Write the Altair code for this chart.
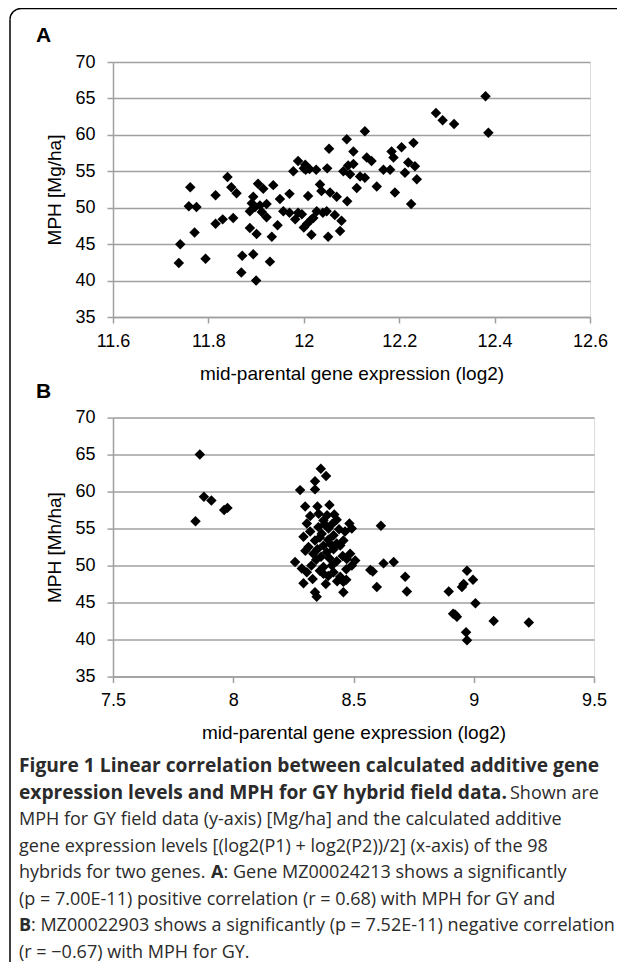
import altair as alt
import pandas as pd

# ---------------- data ----------------
a_x = [11.738, 11.741, 11.762, 11.759, 11.775, 11.771, 11.794, 11.815, 11.815, 11.830,
       11.840, 11.848, 11.859, 11.852, 11.871, 11.869, 11.894, 11.900, 11.887, 11.894,
       11.891, 11.898, 11.887, 11.908, 11.922, 11.912, 11.922, 11.904, 11.915, 11.901,
       11.936, 11.933, 11.929, 11.945, 11.950, 11.970, 11.957, 11.970, 11.988, 11.982,
       12.000, 11.978, 11.988, 12.003, 12.000, 12.012, 12.026, 12.009, 12.016, 12.016,
       12.027, 12.034, 12.037, 12.049, 12.053, 12.055, 12.048, 12.051, 12.065, 12.069,
       12.079, 12.076, 12.083, 12.090, 12.091, 12.093, 12.104, 12.097, 12.104, 12.111,
       12.118, 12.128, 12.128, 12.132, 12.142, 12.153, 12.167, 12.181, 12.184, 12.188,
       12.191, 12.205, 12.212, 12.219, 12.225, 12.230, 12.233, 12.237, 12.277, 12.291,
       12.315, 12.381, 12.387, 12.020, 12.040, 12.007, 11.996, 12.004]
a_y = [42.4, 45.0, 52.8, 50.2, 50.1, 46.6, 43.0, 51.7, 47.8, 48.4,
       54.2, 52.8, 52.0, 48.6, 43.4, 41.1, 43.6, 40.0, 47.2, 51.5,
       50.6, 50.1, 49.5, 50.3, 50.5, 49.4, 48.7, 53.3, 52.6, 46.4,
       53.1, 46.0, 42.6, 47.6, 51.2, 51.9, 49.5, 49.3, 49.3, 48.4,
       47.3, 55.0, 56.4, 55.9, 55.4, 55.3, 55.2, 51.6, 48.4, 46.3,
       49.5, 53.2, 52.3, 55.4, 58.1, 52.1, 49.5, 46.0, 49.0, 51.5,
       48.2, 46.8, 55.0, 59.4, 50.9, 55.8, 56.0, 54.6, 57.7, 52.7,
       54.3, 54.1, 60.5, 56.9, 56.4, 52.9, 55.2, 55.2, 57.7, 56.9,
       52.1, 58.3, 54.8, 56.2, 50.5, 58.9, 55.7, 53.9, 63.0, 62.0,
       61.5, 65.3, 60.3, 48.6, 49.3, 47.8, 49.1, 55.2]

b_x = [7.861, 7.878, 7.909, 7.843, 7.962, 7.976, 8.278, 8.364, 8.386, 8.340,
       8.340, 8.299, 8.400, 8.320, 8.375, 8.430, 8.483, 8.493, 8.614, 8.306,
       8.354, 8.396, 8.368, 8.417, 8.292, 8.340, 8.458, 8.313, 8.375, 8.445,
       8.333, 8.389, 8.417, 8.486, 8.507, 8.493, 8.472, 8.257, 8.285, 8.306,
       8.375, 8.410, 8.375, 8.417, 8.445, 8.458, 8.570, 8.625, 8.667, 8.597,
       8.715, 8.292, 8.340, 8.347, 8.458, 8.722, 8.580, 8.972, 8.997, 8.958,
       8.951, 8.896, 9.007, 8.914, 8.930, 8.922, 9.083, 9.229, 8.968, 8.972,
       8.355, 8.390, 8.410, 8.360, 8.395, 8.430, 8.350, 8.400, 8.430, 8.345,
       8.360, 8.395, 8.432, 8.320, 8.440, 8.465, 8.330, 8.470, 8.380, 8.325,
       8.455, 8.365, 8.300, 8.405, 8.470, 8.350, 8.420, 8.385]
b_y = [65.0, 59.3, 58.8, 56.0, 57.5, 57.8, 60.2, 63.1, 62.1, 61.4,
       60.3, 58.0, 58.2, 56.7, 56.1, 56.2, 55.7, 55.0, 55.4, 55.7,
       55.2, 55.0, 54.3, 54.1, 53.9, 53.4, 53.4, 52.5, 52.7, 52.7,
       51.6, 51.8, 52.2, 51.6, 50.7, 50.0, 50.9, 50.5, 49.6, 49.1,
       49.8, 50.0, 48.9, 49.1, 48.5, 47.8, 49.4, 50.3, 50.5, 47.1,
       48.5, 47.6, 46.4, 45.8, 46.4, 46.5, 49.2, 49.3, 48.1, 47.5,
       47.1, 46.5, 44.9, 43.5, 43.1, 43.4, 42.5, 42.3, 41.0, 39.9,
       57.0, 56.8, 55.6, 53.8, 53.5, 53.0, 52.2, 51.0, 50.6, 50.8,
       49.3, 48.6, 47.9, 54.6, 54.9, 54.6, 48.2, 49.5, 55.6, 50.0,
       51.3, 51.2, 52.0, 52.9, 48.1, 58.0, 56.9, 47.5]

a_xticks = [11.6, 11.8, 12.0, 12.2, 12.4, 12.6]
b_xticks = [7.5, 8.0, 8.5, 9.0, 9.5]
y_ticks = [35, 40, 45, 50, 55, 60, 65, 70]

x_title = "mid-parental gene expression (log2)"
a_y_title = "MPH [Mg/ha]"
b_y_title = "MPH [Mh/ha]"

cap_l1 = "Figure 1 Linear correlation between calculated additive gene"
cap_l2_bold = "expression levels and MPH for GY hybrid field data."
cap_l2_reg = "Shown are"
cap_l3 = "MPH for GY field data (y-axis) [Mg/ha] and the calculated additive"
cap_l4 = "gene expression levels [(log2(P1) + log2(P2))/2] (x-axis) of the 98"
cap_l5a = "hybrids for two genes."
cap_l5b = "A"
cap_l5c = ": Gene MZ00024213 shows a significantly"
cap_l6 = "(p = 7.00E-11) positive correlation (r = 0.68) with MPH for GY and"
cap_l7a = "B"
cap_l7b = ": MZ00022903 shows a significantly (p = 7.52E-11) negative correlation"
cap_l8 = "(r = \u22120.67) with MPH for GY."

# ---------------- styling ----------------
AX_FONT = "Liberation Sans"
CAP_FONT = "Open Sans"
GRID = "#a0a0a0"
CAP_SIZE = 18
CAP_BOLD = 19.2
CAP_COLOR = "#2b2b2b"


def one(text):
    return alt.Chart(pd.DataFrame({"t": [text]}))


def text_layer(text, x, y, size=CAP_SIZE, weight="normal", font=CAP_FONT,
               align="left", color=CAP_COLOR):
    return one(text).mark_text(
        font=font, fontSize=size, fontWeight=weight, align=align,
        baseline="alphabetic", color=color
    ).encode(text="t:N", x=alt.value(x), y=alt.value(y))


def x_axis(values):
    return alt.Axis(
        values=values, format="~g", title=x_title, grid=False,
        domainColor=GRID, domainWidth=1.5, tickColor=GRID, tickWidth=1.5,
        tickSize=6, labelFont=AX_FONT, labelFontSize=18, labelColor="black",
        labelPadding=9, labelFlush=False, labelOverlap=False,
        titleFont=AX_FONT, titleFontSize=19, titleFontWeight="normal",
        titleColor="black", titleY=62, titleBaseline="alphabetic",
    )


def y_axis(title):
    return alt.Axis(
        values=y_ticks, title=title, grid=True, gridColor=GRID, gridWidth=1.5,
        domainColor=GRID, domainWidth=1.5, tickColor=GRID, tickWidth=1.5,
        tickSize=6, labelFont=AX_FONT, labelFontSize=18, labelColor="black",
        labelPadding=12, labelFlush=False, labelOverlap=False,
        titleFont=AX_FONT, titleFontSize=19, titleFontWeight="normal",
        titleColor="black", titleX=-53, titleBaseline="alphabetic",
    )


def scatter(xs, ys, xdom, xticks, ytitle, w, h):
    df = pd.DataFrame({"x": xs, "y": ys})
    return alt.Chart(df).mark_point(
        shape="diamond", filled=True, size=110, color="black", opacity=1
    ).encode(
        x=alt.X("x:Q", scale=alt.Scale(domain=xdom, nice=False, zero=False),
                axis=x_axis(xticks)),
        y=alt.Y("y:Q", scale=alt.Scale(domain=[35, 70], nice=False, zero=False),
                axis=y_axis(ytitle)),
    ).properties(width=w, height=h)


# ---------------- panel A (origin on page at 113, 62) ----------------
pa = scatter(a_x, a_y, [11.6, 12.6], a_xticks, a_y_title, 477, 255)

frame_top = one("f").mark_rule(color="black", strokeWidth=1.5).encode(
    x=alt.value(-92), x2=alt.value(520), y=alt.value(-53.5))
frame_left = one("f").mark_rule(color="black", strokeWidth=1.5).encode(
    x=alt.value(-103), y=alt.value(-42.5), y2=alt.value(920))
frame_corner = one("f").mark_arc(
    radius=11.75, radius2=10.25, theta=4.712389, theta2=6.283185, color="black"
).encode(x=alt.value(-92), y=alt.value(-42.5))

lab_a = text_layer("A", -77, -20, size=21, weight="bold", font=AX_FONT, color="black")

panel_a = alt.layer(pa, frame_top, frame_left, frame_corner, lab_a)

# ---------------- panel B (+ caption), origin on page at 113, 417.6 ----------------
pb = scatter(b_x, b_y, [7.5, 9.5], b_xticks, b_y_title, 481, 259)
lab_b = text_layer("B", -77, -20, size=21, weight="bold", font=AX_FONT, color="black")

cx = -94
base = [354.4, 380.9, 407.4, 433.9, 460.4, 486.9, 513.4, 539.9]
caption = [
    text_layer(cap_l1, cx, base[0], size=CAP_BOLD, weight="bold"),
    text_layer(cap_l2_bold, cx, base[1], size=CAP_BOLD, weight="bold"),
    text_layer(cap_l2_reg, 397, base[1]),
    text_layer(cap_l3, cx, base[2]),
    text_layer(cap_l4, cx, base[3]),
    text_layer(cap_l5a, cx, base[4]),
    text_layer(cap_l5b, 98, base[4], weight="bold"),
    text_layer(cap_l5c, 110.6, base[4]),
    text_layer(cap_l6, cx, base[5]),
    text_layer(cap_l7a, cx, base[6], weight="bold"),
    text_layer(cap_l7b, -82, base[6]),
    text_layer(cap_l8, cx, base[7]),
]

panel_b = alt.layer(pb, lab_b, *caption)

# autosize "none": the layout contributes no size, so the padding alone sets the
# drawing surface (kept inside the window) and the panel origin sits at (105, 54).
chart = alt.vconcat(panel_a, panel_b, spacing=100.6, bounds="flush").properties(
    autosize=alt.AutoSizeParams(type="none"),
    padding={"left": 105, "top": 54, "right": 504, "bottom": 900},
).configure_view(stroke=None).configure(background="white")

chart.save("out.html", embed_options={"renderer": "svg", "actions": False})
